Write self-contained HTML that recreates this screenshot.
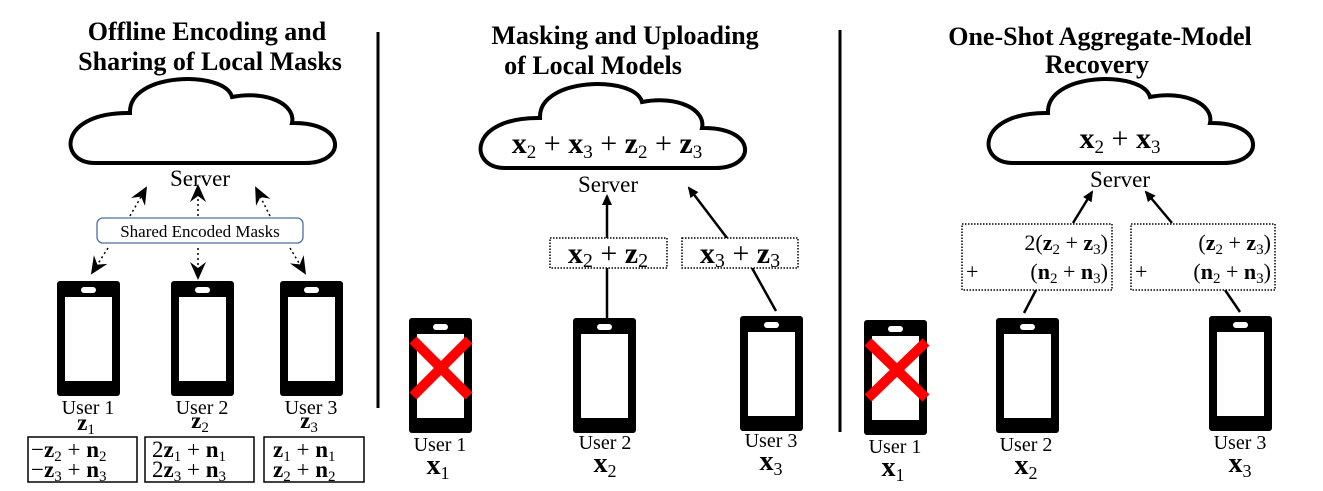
<!DOCTYPE html>
<html><head><meta charset="utf-8">
<style>
html,body{margin:0;padding:0;background:#fff;}
svg{display:block;}
svg text{font-family:"Liberation Serif","DejaVu Serif",serif;fill:#000;}
.t{font-weight:bold;font-size:26px;}
.s{font-size:23px;}
.u{font-size:20px;}
.b{font-weight:bold;}
</style></head>
<body>
<svg width="1323" height="491" viewBox="0 0 1323 491" xmlns="http://www.w3.org/2000/svg" font-family="Liberation Serif, serif">
<defs>
  <path id="cloud" d="M95 163 C58 163 58 112 130 113 C128 72 225 70 232 97 C268 90 296 105 292 123 C347 122 347 163 305 163 Z"/>
  <marker id="ah" markerWidth="12" markerHeight="12" refX="9" refY="6" orient="auto" markerUnits="userSpaceOnUse">
    <path d="M0 1 L11 6 L0 11 Z" fill="#000"/>
  </marker>
  <marker id="fat" markerWidth="20" markerHeight="20" refX="16" refY="10" orient="auto" markerUnits="userSpaceOnUse">
    <path d="M0 2 L18 10 L0 18 L6 10 Z" fill="#000"/>
  </marker>
  <g id="phone">
    <rect x="0" y="0" width="63" height="115" rx="3" fill="#000"/>
    <rect x="8" y="16" width="47" height="84" fill="#fff"/>
    <rect x="24" y="6" width="15" height="6" rx="3" fill="#fff"/>
  </g>
</defs>

<line x1="378" y1="32" x2="378" y2="408" stroke="#000" stroke-width="3"/>
<line x1="840" y1="30" x2="840" y2="432" stroke="#000" stroke-width="3"/>

<!-- PANEL 1 -->
<g>
  <text class="t" x="207" y="40" text-anchor="middle">Offline Encoding and</text>
  <text class="t" x="210" y="70" text-anchor="middle">Sharing of Local Masks</text>
  <use href="#cloud" fill="#fff" stroke="#000" stroke-width="4"/>
  <text class="s" x="200" y="186" text-anchor="middle">Server</text>
  <g stroke="#000" stroke-width="1.5" stroke-dasharray="2,3" fill="none">
    <line x1="130" y1="216" x2="146" y2="188" marker-end="url(#fat)"/>
    <line x1="198" y1="216" x2="198" y2="186" marker-end="url(#fat)"/>
    <line x1="270" y1="216" x2="256" y2="188" marker-end="url(#fat)"/>
    <line x1="108" y1="248" x2="92" y2="273" marker-end="url(#fat)"/>
    <line x1="198" y1="248" x2="198" y2="278" marker-end="url(#fat)"/>
    <line x1="290" y1="248" x2="305" y2="273" marker-end="url(#fat)"/>
  </g>
  <rect x="97" y="218" width="206" height="25" rx="6" fill="#fff" stroke="#4a6fa5" stroke-width="1.3"/>
  <text x="200" y="237" font-size="17" text-anchor="middle">Shared Encoded Masks</text>
  <use href="#phone" x="57" y="281"/>
  <use href="#phone" x="171" y="281"/>
  <use href="#phone" x="280" y="281"/>
  <text class="u" x="88" y="414" text-anchor="middle">User 1</text>
  <text class="u" x="202" y="414" text-anchor="middle">User 2</text>
  <text class="u" x="311" y="414" text-anchor="middle">User 3</text>
  <text font-size="23" x="86" y="430" text-anchor="middle"><tspan class="b">z</tspan><tspan font-size="15" dy="4">1</tspan></text>
  <text font-size="23" x="200" y="428" text-anchor="middle"><tspan class="b">z</tspan><tspan font-size="15" dy="4">2</tspan></text>
  <text font-size="23" x="309" y="428" text-anchor="middle"><tspan class="b">z</tspan><tspan font-size="15" dy="4">3</tspan></text>
  <g fill="none" stroke="#000" stroke-width="1.5">
    <rect x="28" y="437" width="109" height="45"/>
    <rect x="145" y="437" width="109" height="45"/>
    <rect x="264" y="437" width="100" height="45"/>
  </g>
  <g font-size="23">
    <text x="31" y="457">−<tspan class="b">z</tspan><tspan font-size="15" dy="4">2</tspan><tspan dy="-4"> + </tspan><tspan class="b">n</tspan><tspan font-size="15" dy="4">2</tspan></text>
    <text x="31" y="477">−<tspan class="b">z</tspan><tspan font-size="15" dy="4">3</tspan><tspan dy="-4"> + </tspan><tspan class="b">n</tspan><tspan font-size="15" dy="4">3</tspan></text>
    <text x="152" y="457">2<tspan class="b">z</tspan><tspan font-size="15" dy="4">1</tspan><tspan dy="-4"> + </tspan><tspan class="b">n</tspan><tspan font-size="15" dy="4">1</tspan></text>
    <text x="152" y="477">2<tspan class="b">z</tspan><tspan font-size="15" dy="4">3</tspan><tspan dy="-4"> + </tspan><tspan class="b">n</tspan><tspan font-size="15" dy="4">3</tspan></text>
    <text x="273" y="457"><tspan class="b">z</tspan><tspan font-size="15" dy="4">1</tspan><tspan dy="-4"> + </tspan><tspan class="b">n</tspan><tspan font-size="15" dy="4">1</tspan></text>
    <text x="273" y="477"><tspan class="b">z</tspan><tspan font-size="15" dy="4">2</tspan><tspan dy="-4"> + </tspan><tspan class="b">n</tspan><tspan font-size="15" dy="4">2</tspan></text>
  </g>
</g>

<!-- PANEL 2 -->
<g>
  <text class="t" x="625" y="44" text-anchor="middle">Masking and Uploading</text>
  <text class="t" x="593" y="74" text-anchor="middle">of Local Models</text>
  <use href="#cloud" transform="translate(410,5)" fill="#fff" stroke="#000" stroke-width="4"/>
  <text font-size="30" x="607" y="153" text-anchor="middle"><tspan class="b">x</tspan><tspan font-size="19" dy="5">2</tspan><tspan dy="-5"> + </tspan><tspan class="b">x</tspan><tspan font-size="19" dy="5">3</tspan><tspan dy="-5"> + </tspan><tspan class="b">z</tspan><tspan font-size="19" dy="5">2</tspan><tspan dy="-5"> + </tspan><tspan class="b">z</tspan><tspan font-size="19" dy="5">3</tspan></text>
  <text class="s" x="608" y="192" text-anchor="middle">Server</text>
  <line x1="607" y1="318" x2="607" y2="268" stroke="#000" stroke-width="2.5"/>
  <line x1="607" y1="238" x2="607" y2="196" stroke="#000" stroke-width="2.5" marker-end="url(#ah)"/>
  <line x1="776" y1="311" x2="752" y2="268" stroke="#000" stroke-width="2.5"/>
  <line x1="727" y1="238" x2="689" y2="188" stroke="#000" stroke-width="2.5" marker-end="url(#ah)"/>
  <rect x="550" y="238" width="117" height="30" fill="#fff" stroke="#000" stroke-width="1.5" stroke-dasharray="1.5,1.5"/>
  <rect x="682" y="238" width="116" height="30" fill="#fff" stroke="#000" stroke-width="1.5" stroke-dasharray="1.5,1.5"/>
  <text x="608" y="263" font-size="30" text-anchor="middle"><tspan class="b">x</tspan><tspan font-size="20" dy="4">2</tspan><tspan dy="-4"> + </tspan><tspan class="b">z</tspan><tspan font-size="20" dy="4">2</tspan></text>
  <text x="740" y="263" font-size="30" text-anchor="middle"><tspan class="b">x</tspan><tspan font-size="20" dy="4">3</tspan><tspan dy="-4"> + </tspan><tspan class="b">z</tspan><tspan font-size="20" dy="4">3</tspan></text>
  <use href="#phone" x="409" y="318"/>
  <g stroke="#f00" stroke-width="10"><line x1="413" y1="340" x2="469" y2="396"/><line x1="469" y1="340" x2="413" y2="396"/></g>
  <use href="#phone" x="573" y="318"/>
  <use href="#phone" x="740" y="316"/>
  <text class="u" x="440" y="451" text-anchor="middle">User 1</text>
  <text class="u" x="605" y="449" text-anchor="middle">User 2</text>
  <text class="u" x="771" y="447" text-anchor="middle">User 3</text>
  <text x="438" y="474" font-size="28" text-anchor="middle"><tspan class="b">x</tspan><tspan font-size="18" dy="5">1</tspan></text>
  <text x="605" y="472" font-size="28" text-anchor="middle"><tspan class="b">x</tspan><tspan font-size="18" dy="5">2</tspan></text>
  <text x="771" y="470" font-size="28" text-anchor="middle"><tspan class="b">x</tspan><tspan font-size="18" dy="5">3</tspan></text>
</g>

<!-- PANEL 3 -->
<g>
  <text class="t" x="1100" y="45" text-anchor="middle">One-Shot Aggregate-Model</text>
  <text class="t" x="1097" y="73" text-anchor="middle">Recovery</text>
  <use href="#cloud" transform="translate(918,0)" fill="#fff" stroke="#000" stroke-width="4"/>
  <text font-size="30" x="1120" y="148" text-anchor="middle"><tspan class="b">x</tspan><tspan font-size="19" dy="5">2</tspan><tspan dy="-5"> + </tspan><tspan class="b">x</tspan><tspan font-size="19" dy="5">3</tspan></text>
  <text class="s" x="1120" y="187" text-anchor="middle">Server</text>
  <line x1="1073" y1="223" x2="1092" y2="192" stroke="#000" stroke-width="2.5" marker-end="url(#ah)"/>
  <line x1="1172" y1="223" x2="1146" y2="192" stroke="#000" stroke-width="2.5" marker-end="url(#ah)"/>
  <line x1="1036" y1="290" x2="1024" y2="313" stroke="#000" stroke-width="2.5"/>
  <line x1="1225" y1="290" x2="1240" y2="312" stroke="#000" stroke-width="2.5"/>
  <rect x="962" y="224" width="150" height="66" fill="#fff" stroke="#000" stroke-width="1.5" stroke-dasharray="1.5,1.5"/>
  <rect x="1131" y="224" width="144" height="66" fill="#fff" stroke="#000" stroke-width="1.5" stroke-dasharray="1.5,1.5"/>
  <g font-size="22">
    <text x="1108" y="250" text-anchor="end">2(<tspan class="b">z</tspan><tspan font-size="15" dy="4">2</tspan><tspan dy="-4"> + </tspan><tspan class="b">z</tspan><tspan font-size="15" dy="4">3</tspan><tspan dy="-4">)</tspan></text>
    <text x="966" y="279">+</text>
    <text x="1108" y="279" text-anchor="end">(<tspan class="b">n</tspan><tspan font-size="15" dy="4">2</tspan><tspan dy="-4"> + </tspan><tspan class="b">n</tspan><tspan font-size="15" dy="4">3</tspan><tspan dy="-4">)</tspan></text>
    <text x="1271" y="250" text-anchor="end">(<tspan class="b">z</tspan><tspan font-size="15" dy="4">2</tspan><tspan dy="-4"> + </tspan><tspan class="b">z</tspan><tspan font-size="15" dy="4">3</tspan><tspan dy="-4">)</tspan></text>
    <text x="1135" y="279">+</text>
    <text x="1271" y="279" text-anchor="end">(<tspan class="b">n</tspan><tspan font-size="15" dy="4">2</tspan><tspan dy="-4"> + </tspan><tspan class="b">n</tspan><tspan font-size="15" dy="4">3</tspan><tspan dy="-4">)</tspan></text>
  </g>
  <use href="#phone" x="864" y="320"/>
  <g stroke="#f00" stroke-width="10"><line x1="868" y1="342" x2="926" y2="398"/><line x1="926" y1="342" x2="868" y2="398"/></g>
  <use href="#phone" x="996" y="318"/>
  <use href="#phone" x="1209" y="316"/>
  <text class="u" x="895" y="453" text-anchor="middle">User 1</text>
  <text class="u" x="1026" y="451" text-anchor="middle">User 2</text>
  <text class="u" x="1240" y="449" text-anchor="middle">User 3</text>
  <text x="893" y="476" font-size="28" text-anchor="middle"><tspan class="b">x</tspan><tspan font-size="18" dy="5">1</tspan></text>
  <text x="1026" y="474" font-size="28" text-anchor="middle"><tspan class="b">x</tspan><tspan font-size="18" dy="5">2</tspan></text>
  <text x="1240" y="472" font-size="28" text-anchor="middle"><tspan class="b">x</tspan><tspan font-size="18" dy="5">3</tspan></text>
</g>
</svg>
</body></html>
